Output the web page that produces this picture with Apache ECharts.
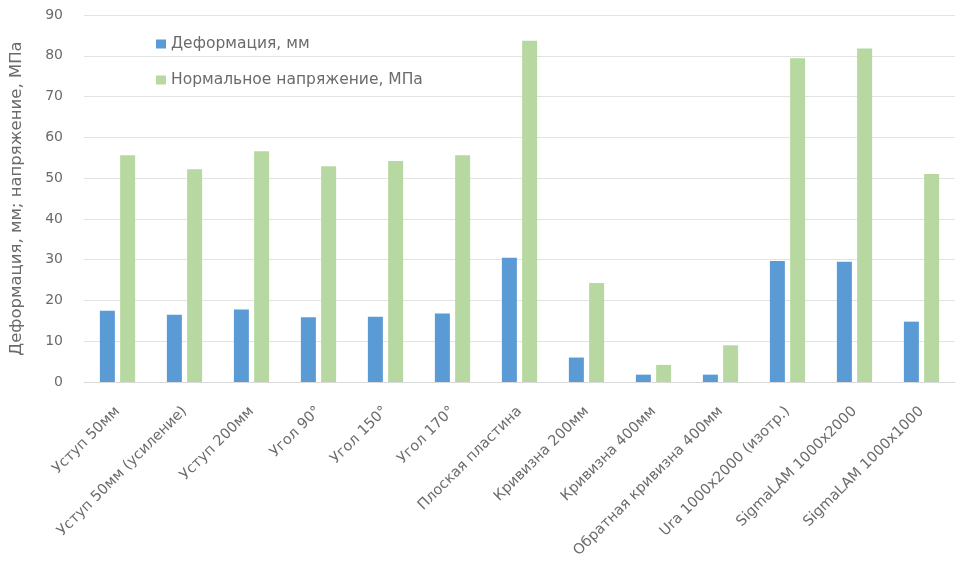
<!DOCTYPE html>
<html>
<head>
<meta charset="utf-8">
<script src="https://cdn.jsdelivr.net/npm/echarts@6/dist/echarts.min.js"></script>
<style>
  html, body { margin: 0; padding: 0; background: #fff; }
  #chart { width: 968px; height: 572px; }
</style>
</head>
<body>
<div id="chart"></div>
<script>
const categories = [
  'Уступ 50мм', 'Уступ 50мм (усиление)', 'Уступ 200мм', 'Угол 90°', 'Угол 150°', 'Угол 170°',
  'Плоская пластина', 'Кривизна 200мм', 'Кривизна 400мм', 'Обратная кривизна 400мм',
  'Ura 1000x2000 (изотр.)', 'SigmaLAM 1000x2000', 'SigmaLAM 1000x1000'
];
const deformation = [17.5, 16.5, 17.8, 15.9, 16.0, 16.8, 30.5, 6.0, 1.8, 1.8, 29.7, 29.5, 14.8];
const stress = [55.6, 52.2, 56.6, 52.9, 54.2, 55.6, 83.7, 24.3, 4.2, 9.0, 79.4, 81.8, 51.0];
const yTicks = { min: 0, max: 90, interval: 10 };

const textColor = '#6b6b6b';
const chart = echarts.init(document.getElementById('chart'));

chart.setOption({
  animation: false,
  textStyle: { fontFamily: 'DejaVu Sans, sans-serif' },
  grid: { left: 80, right: 13, top: 15, bottom: 190 },
  legend: {
    orient: 'vertical',
    left: 151,
    top: 31,
    itemGap: 20,
    itemWidth: 10,
    itemHeight: 9,
    icon: 'rect',
    textStyle: { color: textColor, fontSize: 15.5 },
    data: ['Деформация, мм', 'Нормальное напряжение, МПа']
  },
  xAxis: {
    type: 'category',
    data: categories,
    axisLine: { lineStyle: { color: '#d9d9d9' } },
    axisTick: { show: false },
    axisLabel: {
      rotate: 45,
      interval: 0,
      color: textColor,
      fontSize: 14.5,
      margin: 27
    }
  },
  yAxis: {
    type: 'value',
    min: yTicks.min,
    max: yTicks.max,
    interval: yTicks.interval,
    name: 'Деформация, мм; напряжение, МПа',
    nameLocation: 'middle',
    nameGap: 59,
    nameTextStyle: { color: textColor, fontSize: 16.5 },
    axisLine: { show: false },
    axisTick: { show: false },
    axisLabel: { color: textColor, fontSize: 14, margin: 21 },
    splitLine: { lineStyle: { color: '#e3e3e3' } }
  },
  series: [
    {
      name: 'Деформация, мм',
      type: 'bar',
      data: deformation,
      barWidth: 15,
      barGap: '35%',
      itemStyle: { color: '#5b9bd5' }
    },
    {
      name: 'Нормальное напряжение, МПа',
      type: 'bar',
      data: stress,
      barWidth: 15,
      itemStyle: { color: '#b7d8a1' }
    }
  ]
});
</script>
</body>
</html>
